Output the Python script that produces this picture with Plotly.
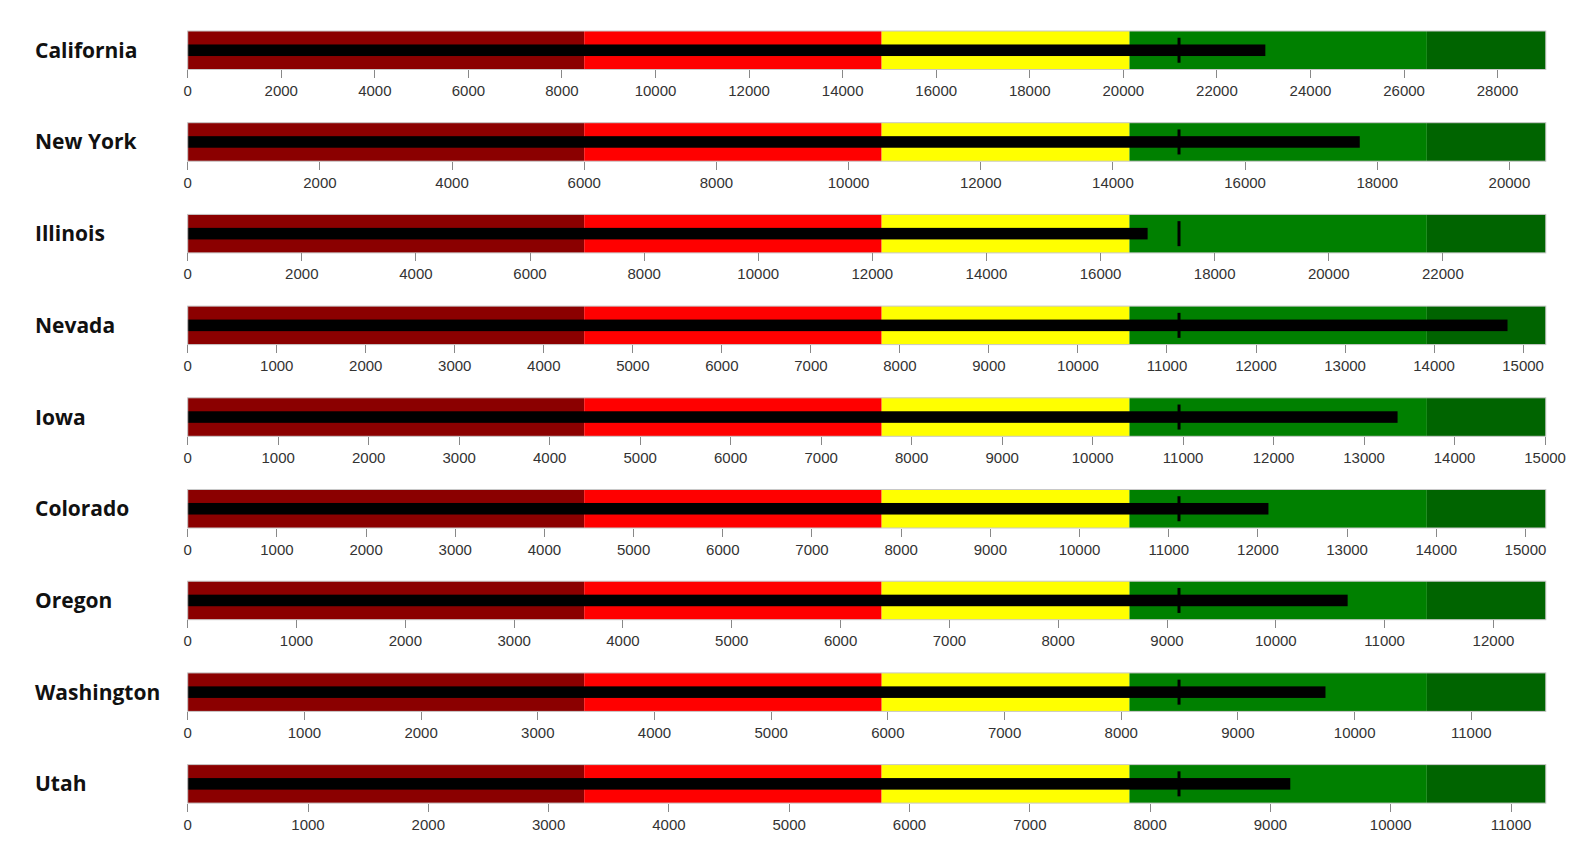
import plotly.graph_objects as go

states = ["California", "New York", "Illinois", "Nevada", "Iowa", "Colorado", "Oregon", "Washington", "Utah"]
measures = [23035, 17735, 16825, 14825, 13370, 12118, 10660, 9750, 9165]
targets = [21190, 15000, 17375, 11135, 10955, 11115, 9110, 8495, 8240]
# range boundaries: very poor, poor, fair, good, excellent (upper bounds)
range_very_poor = [8476, 6000, 6950, 4454, 4382, 4446, 3644, 3398, 3296]
range_poor = [14833, 10500, 12163, 7795, 7669, 7781, 6377, 5947, 5768]
range_fair = [20131, 14250, 16506, 10578, 10407, 10559, 8655, 8070, 7828]
range_good = [26488, 18750, 21719, 13919, 13694, 13894, 11388, 10619, 10300]
range_max = [29030, 20550, 23804, 15255, 15008, 15228, 12481, 11638, 11289]
tick_steps = [2000, 2000, 2000, 1000, 1000, 1000, 1000, 1000, 1000]

colors = ["#8b0000", "#ff0000", "#ffff00", "#008000", "#006400"]

W, H = 1582, 857
x0, x1 = 187.7 / W, 1545.8 / W
top0 = 31.0
pitch = 91.7
gh = 38.5

fig = go.Figure()
for i, s in enumerate(states):
    bounds = [0, range_very_poor[i], range_poor[i], range_fair[i], range_good[i], range_max[i]]
    steps = [dict(range=[bounds[k], bounds[k + 1]], color=colors[k]) for k in range(5)]
    top = top0 + i * pitch
    yd = [1 - (top + gh) / H, 1 - top / H]
    fig.add_trace(go.Indicator(
        mode="gauge",
        value=measures[i],
        domain=dict(x=[x0, x1], y=yd),
        gauge=dict(
            shape="bullet",
            axis=dict(range=[0, range_max[i]], dtick=tick_steps[i], tick0=0, tickformat="d",
                      ticks="outside", ticklen=8, tickwidth=1, tickcolor="#888",
                      tickfont=dict(family="Liberation Sans, Arial, sans-serif", size=15, color="#333")),
            bar=dict(color="black", thickness=0.3),
            bgcolor="white",
            bordercolor="#c8c8c8",
            borderwidth=1,
            steps=steps,
            threshold=dict(line=dict(color="black", width=3), thickness=0.65, value=targets[i]),
        ),
    ))
    fig.add_annotation(x=33 / W, y=1 - (top + gh / 2 - 0.5) / H, xref="paper", yref="paper",
                       text="<b>" + s + "</b>", showarrow=False, xanchor="left", yanchor="middle",
                       font=dict(family="Open Sans, sans-serif", size=21, color="#111"))

fig.update_layout(width=W, height=H, margin=dict(l=0, r=0, t=0, b=0),
                  paper_bgcolor="white", showlegend=False)
fig.write_html("out.html")
